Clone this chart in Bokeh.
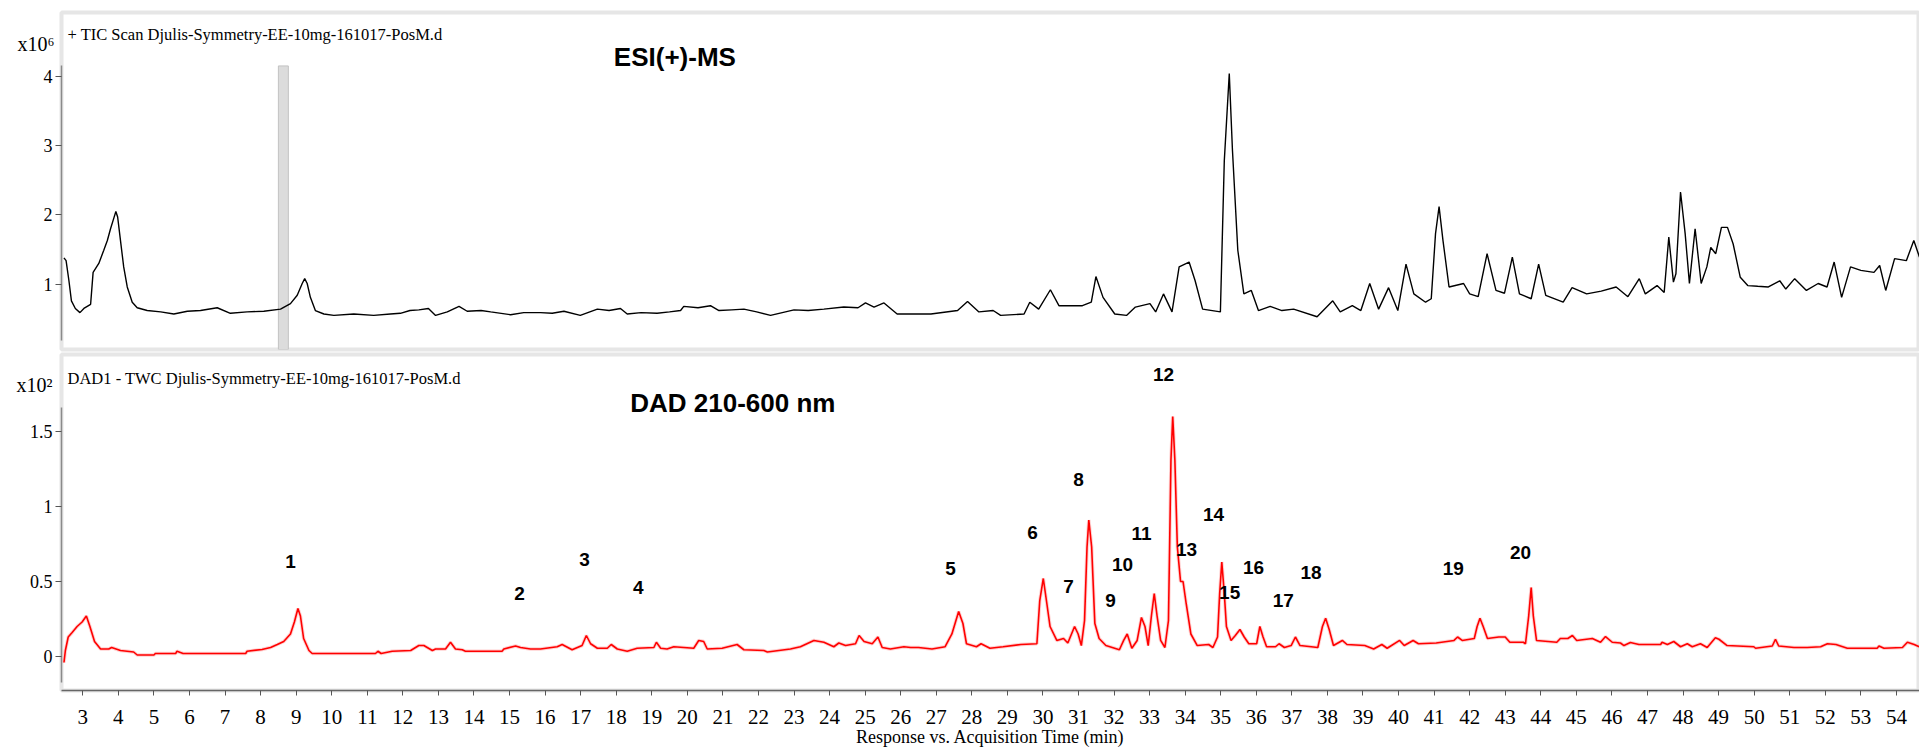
from bokeh.plotting import figure
from bokeh.models import Range1d, FixedTicker, CustomJSTickFormatter, Label, LinearAxis
from bokeh.layouts import column
from bokeh.embed import file_html
from bokeh.resources import INLINE
from bokeh.core.properties import value

# ---------------- data ----------------
tic_t = [2.47, 2.53, 2.61, 2.68, 2.79, 2.92, 3.03, 3.22, 3.29, 3.45, 3.59, 3.69, 3.78, 3.87, 3.93,
         3.98, 4.06, 4.15, 4.25, 4.39, 4.53, 4.81, 5.19, 5.56, 5.94, 6.31, 6.78, 7.15, 7.62, 8.09,
         8.56, 8.84, 9.03, 9.17, 9.24, 9.31, 9.40, 9.54, 9.78, 10.06, 10.62, 11.18, 11.65, 11.93,
         12.20, 12.45, 12.72, 12.92, 13.25, 13.58, 13.81, 14.20, 14.47, 15.03, 15.40, 15.87, 16.20,
         16.53, 16.99, 17.47, 17.80, 18.12, 18.31, 18.70, 19.15, 19.50, 19.81, 19.90, 20.30, 20.65,
         20.89, 21.25, 21.59, 21.95, 22.34, 23.00, 23.40, 23.84, 24.40, 24.80, 25.01, 25.25, 25.53,
         25.90, 26.28, 26.85, 27.60, 27.88, 28.20, 28.60, 28.81, 29.47, 29.63, 29.88, 30.21, 30.45,
         31.11, 31.36, 31.49, 31.69, 32.02, 32.35, 32.60, 33.01, 33.17, 33.39, 33.63, 33.83, 34.11,
         34.28, 34.49, 34.99, 35.10, 35.24, 35.33, 35.48, 35.65, 35.86, 36.06, 36.39, 36.72, 37.05,
         37.71, 38.15, 38.36, 38.70, 38.94, 39.19, 39.44, 39.72, 39.98, 40.21, 40.43, 40.76, 40.92,
         41.04, 41.14, 41.25, 41.42, 41.83, 42.00, 42.24, 42.49, 42.74, 42.98, 43.20, 43.40, 43.73,
         43.94, 44.14, 44.63, 44.88, 45.29, 45.70, 46.12, 46.45, 46.77, 46.94, 47.27, 47.47, 47.60,
         47.73, 47.80, 47.93, 48.06, 48.18, 48.34, 48.51, 48.67, 48.78, 48.92, 49.08, 49.25, 49.41,
         49.61, 49.82, 50.10, 50.40, 50.72, 50.89, 51.14, 51.47, 51.80, 52.05, 52.25, 52.46, 52.71,
         53.00, 53.37, 53.53, 53.70, 53.95, 54.28, 54.49, 54.65]
tic_v = [1.38, 1.34, 1.05, 0.76, 0.65, 0.59, 0.65, 0.71, 1.17, 1.30, 1.49, 1.63, 1.80, 1.95, 2.05,
         1.97, 1.63, 1.25, 0.96, 0.74, 0.66, 0.62, 0.60, 0.57, 0.61, 0.62, 0.66, 0.58, 0.60, 0.61,
         0.64, 0.72, 0.84, 1.01, 1.08, 1.01, 0.81, 0.62, 0.57, 0.55, 0.57, 0.55, 0.57, 0.58,
         0.62, 0.63, 0.65, 0.55, 0.60, 0.68, 0.61, 0.62, 0.60, 0.56, 0.59, 0.59, 0.58,
         0.61, 0.55, 0.64, 0.62, 0.65, 0.57, 0.59, 0.58, 0.60, 0.62, 0.68, 0.66, 0.69,
         0.62, 0.63, 0.64, 0.60, 0.55, 0.63, 0.62, 0.64, 0.67, 0.66, 0.73, 0.67, 0.73,
         0.57, 0.57, 0.57, 0.62, 0.75, 0.60, 0.62, 0.55, 0.57, 0.74, 0.64, 0.92, 0.69,
         0.69, 0.74, 1.11, 0.81, 0.57, 0.55, 0.67, 0.72, 0.60, 0.86, 0.60, 1.25, 1.32,
         1.05, 0.64, 0.60, 2.78, 4.04, 2.93, 1.49, 0.86, 0.91, 0.62, 0.68, 0.62, 0.64,
         0.53, 0.76, 0.60, 0.69, 0.62, 1.01, 0.64, 0.95, 0.62, 1.29, 0.86, 0.74, 0.79,
         1.73, 2.12, 1.63, 0.96, 1.01, 0.86, 0.82, 1.44, 0.91, 0.87, 1.39, 0.86, 0.79,
         1.29, 0.84, 0.74, 0.95, 0.86, 0.90, 0.96, 0.82, 1.08, 0.86, 0.98, 0.88, 1.68,
         1.03, 1.15, 2.33, 1.73, 1.01, 1.80, 1.01, 1.25, 1.53, 1.44, 1.82, 1.82, 1.58,
         1.10, 0.98, 0.97, 0.96, 1.05, 0.93, 1.08, 0.91, 1.01, 0.96, 1.32, 0.81, 1.25,
         1.20, 1.17, 1.27, 0.91, 1.37, 1.34, 1.63, 1.39]

dad_t = [2.47, 2.51, 2.59, 2.70, 2.84, 2.98, 3.10, 3.20, 3.33, 3.50, 3.73, 3.81, 4.06, 4.43, 4.53,
         5.00, 5.04, 5.61, 5.65, 5.82, 7.58, 7.62, 8.04, 8.28, 8.47, 8.65, 8.84, 8.95, 9.05, 9.12,
         9.21, 9.36, 9.45, 11.23, 11.30, 11.39, 11.70, 12.22, 12.45, 12.59, 12.83, 12.92, 13.20,
         13.34, 13.48, 13.67, 13.76, 14.79, 14.84, 15.17, 15.31, 15.59, 15.87, 16.34, 16.48, 16.76,
         17.04, 17.16, 17.28, 17.47, 17.75, 17.86, 18.03, 18.31, 18.59, 19.06, 19.13, 19.25, 19.43,
         19.62, 20.18, 20.32, 20.46, 20.56, 20.98, 21.40, 21.59, 22.15, 22.25, 22.90, 23.18, 23.56,
         23.84, 24.12, 24.26, 24.45, 24.73, 24.83, 24.97, 25.20, 25.36, 25.48, 25.71, 26.09, 26.28,
         26.50, 26.88, 27.25, 27.44, 27.63, 27.75, 27.85, 28.13, 28.26, 28.51, 28.88, 29.38, 29.83,
         29.91, 30.01, 30.10, 30.20, 30.39, 30.58, 30.70, 30.89, 30.99, 31.08, 31.17, 31.24, 31.29,
         31.37, 31.46, 31.58, 31.77, 32.15, 32.27, 32.37, 32.50, 32.65, 32.77, 32.87, 32.96, 33.05,
         33.13, 33.21, 33.31, 33.43, 33.53, 33.60, 33.65, 33.71, 33.78, 33.87, 33.94, 34.03, 34.16,
         34.34, 34.66, 34.78, 34.91, 34.97, 35.03, 35.10, 35.16, 35.29, 35.41, 35.54, 35.66, 35.79,
         36.01, 36.10, 36.19, 36.29, 36.54, 36.64, 36.79, 36.98, 37.10, 37.23, 37.73, 37.86, 37.95,
         38.05, 38.17, 38.42, 38.55, 39.05, 39.30, 39.53, 39.68, 40.03, 40.16, 40.41, 40.56, 41.06,
         41.56, 41.66, 41.79, 42.13, 42.21, 42.29, 42.38, 42.50, 42.82, 43.00, 43.13, 43.51, 43.57,
         43.66, 43.73, 43.79, 43.88, 44.45, 44.55, 44.76, 44.89, 45.01, 45.45, 45.68, 45.82, 46.01,
         46.24, 46.34, 46.52, 46.76, 47.37, 47.41, 47.56, 47.74, 47.93, 48.12, 48.26, 48.49, 48.68,
         48.91, 49.01, 49.24, 49.99, 50.04, 50.51, 50.60, 50.69, 51.12, 51.49, 51.87, 52.06, 52.30,
         52.62, 53.46, 53.51, 53.65, 54.17, 54.31, 54.50, 54.64]
dad_v = [-0.04, 0.04, 0.13, 0.16, 0.20, 0.23, 0.27, 0.20, 0.10, 0.05, 0.05, 0.06, 0.04, 0.03, 0.01,
         0.01, 0.02, 0.02, 0.035, 0.02, 0.02, 0.035, 0.047, 0.06, 0.08, 0.10, 0.15, 0.23, 0.32, 0.27,
         0.12, 0.04, 0.02, 0.02, 0.035, 0.02, 0.035, 0.04, 0.073, 0.073, 0.04, 0.05, 0.05,
         0.095, 0.05, 0.045, 0.035, 0.035, 0.05, 0.07, 0.06, 0.05, 0.05, 0.065, 0.08, 0.045,
         0.073, 0.14, 0.085, 0.055, 0.055, 0.08, 0.05, 0.035, 0.055, 0.06, 0.095, 0.055, 0.05,
         0.065, 0.055, 0.107, 0.10, 0.05, 0.055, 0.08, 0.045, 0.04, 0.03, 0.05, 0.065, 0.107,
         0.095, 0.065, 0.09, 0.073, 0.085, 0.14, 0.10, 0.085, 0.13, 0.06, 0.05, 0.065, 0.06,
         0.06, 0.05, 0.065, 0.15, 0.30, 0.22, 0.085, 0.065, 0.085, 0.055, 0.065, 0.08, 0.085,
         0.37, 0.52, 0.37, 0.20, 0.107, 0.12, 0.09, 0.20, 0.15, 0.073, 0.24, 0.73, 0.91,
         0.73, 0.22, 0.12, 0.073, 0.045, 0.107, 0.15, 0.055, 0.107, 0.26, 0.20, 0.073, 0.27,
         0.42, 0.27, 0.107, 0.06, 0.24, 1.31, 1.60, 1.31, 0.73, 0.50, 0.50, 0.35, 0.15,
         0.073, 0.08, 0.06, 0.13, 0.42, 0.63, 0.42, 0.20, 0.107, 0.14, 0.18, 0.13, 0.085,
         0.085, 0.20, 0.13, 0.065, 0.065, 0.085, 0.06, 0.073, 0.13, 0.073, 0.06, 0.20, 0.255,
         0.18, 0.073, 0.107, 0.08, 0.073, 0.05, 0.08, 0.055, 0.107, 0.073, 0.107, 0.085, 0.09,
         0.107, 0.13, 0.107, 0.12, 0.20, 0.255, 0.20, 0.12, 0.13, 0.13, 0.095, 0.095, 0.085,
         0.27, 0.46, 0.27, 0.107, 0.095, 0.12, 0.12, 0.14, 0.107, 0.12, 0.095, 0.133, 0.095,
         0.09, 0.073, 0.093, 0.08, 0.08, 0.095, 0.08, 0.10, 0.065, 0.085, 0.065, 0.085, 0.06,
         0.125, 0.115, 0.073, 0.065, 0.055, 0.07, 0.115, 0.07, 0.06, 0.06, 0.065, 0.085, 0.08,
         0.055, 0.055, 0.07, 0.055, 0.06, 0.095, 0.08, 0.065]

peak_labels = [str(i) for i in range(1, 21)]
peak_t = [8.84, 15.28, 17.11, 18.62, 27.40, 29.71, 30.72, 31.00, 31.90, 32.24,
          32.77, 33.39, 34.04, 34.80, 35.25, 35.92, 36.76, 37.54, 41.54, 43.43]
peak_v = [0.633, 0.42, 0.647, 0.46, 0.587, 0.827, 0.467, 1.18, 0.373, 0.613,
          0.82, 1.88, 0.713, 0.947, 0.427, 0.593, 0.373, 0.56, 0.587, 0.693]

x_ticks = list(range(3, 55))
tic_ticks = [1, 2, 3, 4]
dad_ticks = [0, 0.5, 1, 1.5]
band_t = [8.50, 8.78]
band_top = 4.15
tic_scale_label = "x10\u2076"
dad_scale_label = "x10\u00b2"

X0, X1 = 2.401, 54.65
SERIF = "Liberation Serif"
SANS = "Liberation Sans"
FRAME = "#e6e6e6"


def style_y(ax, ticks, bounds):
    ax.ticker = FixedTicker(ticks=ticks)
    ax.bounds = bounds
    ax.axis_line_color = "#8a8a8a"
    ax.axis_line_width = 1.5
    ax.major_tick_line_color = "#555555"
    ax.major_tick_in = 0
    ax.major_tick_out = 6
    ax.minor_tick_line_color = None
    ax.major_label_text_font = SERIF
    ax.major_label_text_font_size = "18px"
    ax.major_label_text_color = "black"
    ax.major_label_standoff = 3
    ax.formatter = CustomJSTickFormatter(code="return tick.toString();")


def scale_axis(fig, pos, text, standoff):
    # exponent marker drawn by a tick-only axis placed left of the main y axis
    ax = LinearAxis(ticker=FixedTicker(ticks=[pos]),
                    formatter=CustomJSTickFormatter(code="return '%s';" % text))
    ax.axis_line_color = None
    ax.major_tick_line_color = None
    ax.minor_tick_line_color = None
    ax.major_tick_in = 0
    ax.major_tick_out = 0
    ax.major_label_standoff = standoff
    ax.major_label_text_font = SERIF
    ax.major_label_text_font_size = "20px"
    ax.major_label_text_color = "black"
    fig.add_layout(ax, "left")


# ---------------- top panel: TIC ----------------
top = figure(width=1919, height=352, x_range=Range1d(X0, X1), y_range=Range1d(0.0577, 4.921),
             output_backend="svg", toolbar_location=None, x_axis_location=None,
             min_border_left=61, min_border_right=0, min_border_top=12, min_border_bottom=3)
top.grid.visible = False
top.outline_line_color = FRAME
top.outline_line_width = 4
top.background_fill_color = "white"
style_y(top.yaxis[0], tic_ticks, (0.19, 4.16))
scale_axis(top, 4.47, tic_scale_label, -14)

top.quad(left=[band_t[0]], right=[band_t[1]], bottom=[0.0577], top=[band_top],
         fill_color="#dcdcdc", line_color="#c2c2c2", line_width=1)
top.line(tic_t, tic_v, line_color="black", line_width=1.4)

top.add_layout(Label(x=2.57, y=4.603, text="+ TIC Scan Djulis-Symmetry-EE-10mg-161017-PosM.d",
                     text_font=SERIF, text_font_size="16.5px", text_baseline="middle",
                     text_align="left", text_color="black"))
top.add_layout(Label(x=19.65, y=4.286, text="ESI(+)-MS", text_font=SANS, text_font_style="bold",
                     text_font_size="26px", text_baseline="middle", text_align="center",
                     text_color="black"))

# ---------------- bottom panel: DAD ----------------
bot = figure(width=1919, height=402, x_range=top.x_range, y_range=Range1d(-0.2267, 2.0133),
             output_backend="svg", toolbar_location=None,
             min_border_left=61, min_border_right=0, min_border_top=2, min_border_bottom=64)
bot.grid.visible = False
bot.outline_line_color = FRAME
bot.outline_line_width = 4
style_y(bot.yaxis[0], dad_ticks, (-0.173, 1.66))
scale_axis(bot, 1.81, dad_scale_label, -26)

xa = bot.xaxis[0]
xa.ticker = FixedTicker(ticks=x_ticks)
xa.axis_line_color = "#666666"
xa.axis_line_width = 1.5
xa.major_tick_line_color = "#555555"
xa.major_tick_in = 0
xa.major_tick_out = 5
xa.minor_tick_line_color = None
xa.major_label_text_font = SERIF
xa.major_label_text_font_size = "21px"
xa.major_label_text_color = "black"
xa.major_label_standoff = 14
xa.axis_label = "Response vs. Acquisition Time (min)"
xa.axis_label_text_font = SERIF
xa.axis_label_text_font_size = "18px"
xa.axis_label_text_font_style = "normal"
xa.axis_label_text_color = "black"
xa.axis_label_standoff = 0

bot.line(dad_t, dad_v, line_color="#ffb3b3", line_width=3.5, line_alpha=0.6)
bot.line(dad_t, dad_v, line_color="#ff0000", line_width=1.6)
bot.text(x=peak_t, y=peak_v, text=peak_labels, text_font=value(SANS), text_font_style="bold",
         text_font_size="19px", text_align="center", text_baseline="middle", text_color="black")

bot.add_layout(Label(x=2.57, y=1.853, text="DAD1 - TWC Djulis-Symmetry-EE-10mg-161017-PosM.d",
                     text_font=SERIF, text_font_size="16.5px", text_baseline="middle",
                     text_align="left", text_color="black"))
bot.add_layout(Label(x=21.28, y=1.687, text="DAD 210-600 nm", text_font=SANS,
                     text_font_style="bold", text_font_size="26px", text_baseline="middle",
                     text_align="center", text_color="black"))

layout = column(top, bot, spacing=0)
open("out.html", "w").write(file_html(layout, INLINE))
